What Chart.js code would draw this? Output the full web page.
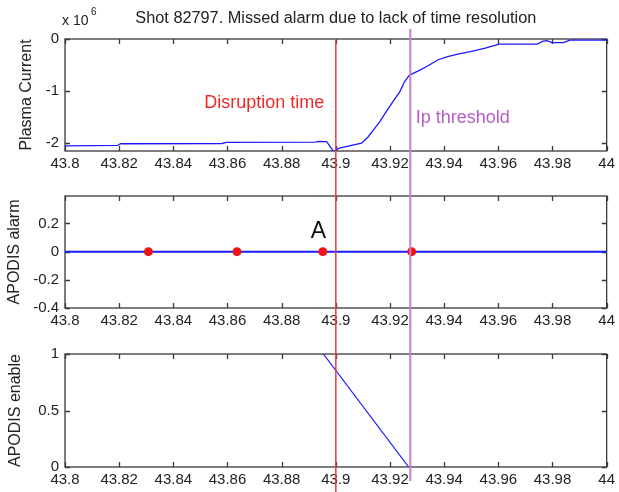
<!DOCTYPE html>
<html>
<head>
<meta charset="utf-8">
<script src="https://cdn.jsdelivr.net/npm/chart.js@4.4.1/dist/chart.umd.min.js"></script>
<style>
  body { margin: 0; background: #fff; width: 619px; height: 492px; overflow: hidden; position: relative; }
  canvas { position: absolute; left: 0; }
</style>
</head>
<body>
<canvas id="ipChart" width="619" height="175" style="top:0px"></canvas>
<canvas id="alarmChart" width="619" height="155" style="top:175px"></canvas>
<canvas id="enableChart" width="619" height="162" style="top:330px"></canvas>
<script>
// values
const ipTime = [43.8, 43.8195, 43.8205, 43.858, 43.8595, 43.8925, 43.8936, 43.8966,
  43.8985, 43.8991, 43.9003, 43.9009, 43.9058, 43.9095, 43.9119, 43.9144, 43.9162,
  43.9186, 43.9211, 43.9236, 43.9254, 43.9272, 43.9303, 43.9339, 43.9376, 43.9413,
  43.945, 43.9497, 43.9548, 43.9603, 43.9743, 43.9765, 43.978, 43.9798, 43.984,
  43.9864, 44.0];
const ipValue = [-2.06e6, -2.05e6, -2.02e6, -2.015e6, -1.995e6, -1.99e6, -1.975e6, -1.98e6,
  -2.12e6, -2.17e6, -2.14e6, -2.11e6, -2.05e6, -2.01e6, -1.89e6, -1.72e6, -1.6e6,
  -1.4e6, -1.21e6, -1.02e6, -0.82e6, -0.695e6, -0.62e6, -0.52e6, -0.405e6, -0.34e6,
  -0.29e6, -0.245e6, -0.18e6, -0.097e6, -0.097e6, -0.04e6, -0.033e6, -0.07e6, -0.07e6,
  -0.02e6, -0.02e6];

const alarmTime = [43.8308, 43.8635, 43.8952, 43.928];
const alarmValue = [0, 0, 0, 0];
const alarmBaseTime = [43.8, 44.0];
const alarmBaseValue = [0, 0];

const enableTime = [43.8954, 43.9269];
const enableValue = [1, 0];

const disruptionTime = 43.9;
const ipThresholdTime = 43.9275;

const xTicks = [43.8, 43.82, 43.84, 43.86, 43.88, 43.9, 43.92, 43.94, 43.96, 43.98, 44.0];
const ipTicks = [-2e6, -1e6, 0];
const alarmTicks = [-0.4, -0.2, 0, 0.2];
const enableTicks = [0, 0.5, 1];

const FONT = "'Liberation Sans', Arial, sans-serif";
const BLUE = '#1a1aff';
const RED = '#ec3a3a';
const PURPLE = '#c27fd0';

function pts(xs, ys) { return xs.map((x, i) => ({ x: x, y: ys[i] })); }

function xAxis(h) {
  return {
    type: 'linear', min: 43.8, max: 44,
    afterBuildTicks: s => { s.ticks = xTicks.map(v => ({ value: v })); },
    afterFit: s => { s.height = h; },
    grid: { display: false, drawTicks: false },
    border: { display: false },
    ticks: { padding: 4, color: '#222', autoSkip: false, maxRotation: 0,
      font: { family: FONT, size: 15 },
      callback: v => String(+v.toFixed(2)) }
  };
}

function yAxis(min, max, tickVals, fmt) {
  return {
    type: 'linear', min: min, max: max,
    afterBuildTicks: s => { s.ticks = tickVals.map(v => ({ value: v })); },
    afterFit: s => { s.width = 65; },
    grid: { display: false, drawTicks: false },
    border: { display: false },
    ticks: { padding: 6, color: '#222', font: { family: FONT, size: 15 }, callback: fmt }
  };
}

// matlab-like box with inward ticks, cursor lines and notes
const matlabAxes = {
  id: 'matlabAxes',
  beforeDatasetsDraw(chart) {
    const a = chart.chartArea, ctx = chart.ctx;
    const xs = chart.scales.x, ys = chart.scales.y;
    ctx.save();
    ctx.strokeStyle = '#3a3a3a';
    ctx.lineWidth = 1.3;
    ctx.strokeRect(a.left, a.top, a.right - a.left, a.bottom - a.top);
    ctx.beginPath();
    xs.ticks.forEach(t => {
      const px = Math.round(xs.getPixelForValue(t.value)) + 0.5;
      ctx.moveTo(px, a.bottom); ctx.lineTo(px, a.bottom - 5);
      ctx.moveTo(px, a.top); ctx.lineTo(px, a.top + 5);
    });
    ys.ticks.forEach(t => {
      const py = Math.round(ys.getPixelForValue(t.value)) + 0.5;
      ctx.moveTo(a.left, py); ctx.lineTo(a.left + 5, py);
      ctx.moveTo(a.right, py); ctx.lineTo(a.right - 5, py);
    });
    ctx.stroke();
    ctx.restore();
  },
  afterDatasetsDraw(chart, args, opts) {
    const ctx = chart.ctx, xs = chart.scales.x, ys = chart.scales.y;
    ctx.save();
    (opts.markers || []).forEach(m => {
      const px = xs.getPixelForValue(m.x);
      ctx.strokeStyle = m.color;
      ctx.lineWidth = m.width;
      ctx.beginPath();
      ctx.moveTo(px, m.from);
      ctx.lineTo(px, m.to);
      ctx.stroke();
    });
    (opts.notes || []).forEach(n => {
      ctx.fillStyle = n.color;
      ctx.font = n.size + 'px ' + FONT;
      ctx.textAlign = n.align || 'left';
      ctx.textBaseline = 'middle';
      ctx.fillText(n.text, xs.getPixelForValue(n.x), ys.getPixelForValue(n.y));
    });
    if (opts.ylabel) {
      const a = chart.chartArea;
      ctx.translate(opts.ylabel.x, (a.top + a.bottom) / 2);
      ctx.rotate(-Math.PI / 2);
      ctx.fillStyle = '#222';
      ctx.font = '16px ' + FONT;
      ctx.textAlign = 'center';
      ctx.textBaseline = 'middle';
      ctx.fillText(opts.ylabel.text, 0, 0);
    }
    ctx.restore();
    if (opts.header) {
      ctx.save();
      ctx.fillStyle = '#222';
      ctx.textBaseline = 'middle';
      ctx.textAlign = 'center';
      ctx.font = '16.3px ' + FONT;
      ctx.fillText(opts.header, (chart.chartArea.left + chart.chartArea.right) / 2, 19);
      ctx.textAlign = 'left';
      ctx.font = '14px ' + FONT;
      ctx.fillText('x 10', 62, 21);
      ctx.font = '10px ' + FONT;
      ctx.fillText('6', 91, 12);
      ctx.restore();
    }
  }
};
Chart.register(matlabAxes);

const base = {
  responsive: false,
  animation: false,
  events: [],
  plugins: { legend: { display: false }, tooltip: { enabled: false } }
};

new Chart(document.getElementById('ipChart'), {
  type: 'line',
  data: { datasets: [{ data: pts(ipTime, ipValue), borderColor: BLUE, borderWidth: 1.3, pointRadius: 0, tension: 0 }] },
  options: Object.assign({}, base, {
    layout: { autoPadding: false, padding: { left: 0, right: 9, top: 39, bottom: 0 } },
    scales: {
      x: xAxis(24),
      y: yAxis(-2.16e6, 0, ipTicks, v => String(Math.round(v / 1e6)))
    },
    plugins: Object.assign({}, base.plugins, {
      matlabAxes: {
        header: 'Shot 82797. Missed alarm due to lack of time resolution',
        ylabel: { text: 'Plasma Current', x: 27 },
        markers: [
          { x: disruptionTime, color: RED, width: 1.5, from: 39, to: 175 },
          { x: ipThresholdTime, color: PURPLE, width: 2, from: 29, to: 175 }
        ],
        notes: [
          { text: 'Disruption time', x: 43.8514, y: -1.235e6, color: '#f02828', size: 18 },
          { text: 'Ip threshold', x: 43.9295, y: -1.525e6, color: '#b85cc8', size: 18 }
        ]
      }
    })
  })
});

new Chart(document.getElementById('alarmChart'), {
  type: 'line',
  data: { datasets: [
    { data: pts(alarmTime, alarmValue), showLine: false, pointRadius: 4.5, pointBackgroundColor: '#ee1414', pointBorderColor: '#ee1414', pointBorderWidth: 0 },
    { data: pts(alarmBaseTime, alarmBaseValue), borderColor: BLUE, borderWidth: 2, pointRadius: 0 }
  ] },
  options: Object.assign({}, base, {
    layout: { autoPadding: false, padding: { left: 0, right: 9, top: 21, bottom: 0 } },
    scales: {
      x: xAxis(22),
      y: yAxis(-0.4, 0.395, alarmTicks, v => String(+v.toFixed(1)))
    },
    plugins: Object.assign({}, base.plugins, {
      matlabAxes: {
        ylabel: { text: 'APODIS alarm', x: 15 },
        markers: [
          { x: disruptionTime, color: RED, width: 1.5, from: 0, to: 155 },
          { x: ipThresholdTime, color: PURPLE, width: 2, from: 0, to: 155 }
        ],
        notes: [
          { text: 'A', x: 43.8936, y: 0.139, color: '#111', size: 23, align: 'center' }
        ]
      }
    })
  })
});

new Chart(document.getElementById('enableChart'), {
  type: 'line',
  data: { datasets: [{ data: pts(enableTime, enableValue), borderColor: BLUE, borderWidth: 1.2, pointRadius: 0 }] },
  options: Object.assign({}, base, {
    layout: { autoPadding: false, padding: { left: 0, right: 9, top: 24, bottom: 0 } },
    scales: {
      x: xAxis(25),
      y: yAxis(0, 1, enableTicks, v => String(v))
    },
    plugins: Object.assign({}, base.plugins, {
      matlabAxes: {
        ylabel: { text: 'APODIS enable', x: 16 },
        markers: [
          { x: disruptionTime, color: RED, width: 1.5, from: 0, to: 162 },
          { x: ipThresholdTime, color: PURPLE, width: 2, from: 0, to: 151 }
        ]
      }
    })
  })
});
</script>
</body>
</html>
